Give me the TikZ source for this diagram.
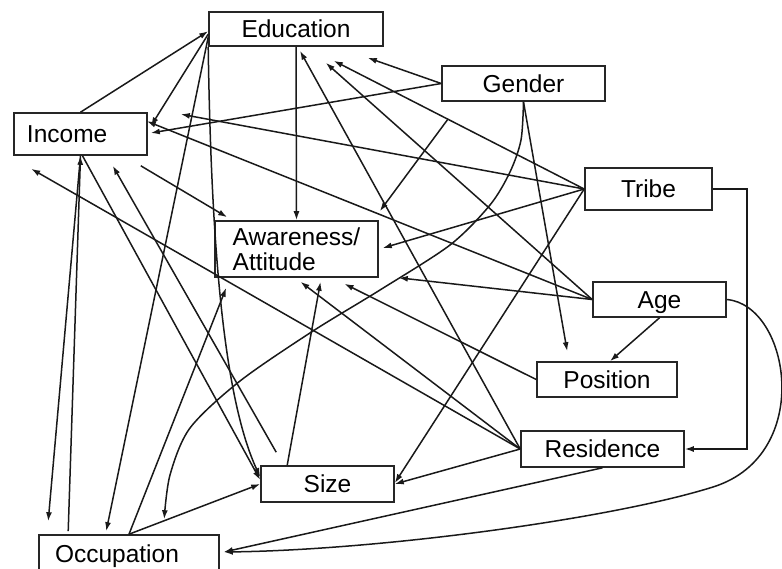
\documentclass[tikz,border=0pt]{standalone}
\usepackage{fontspec}
\setmainfont{Liberation Sans}
\usetikzlibrary{arrows.meta}

\tikzset{
  box/.style={draw=black!85, line width=1.6pt, rectangle, inner sep=0pt,
    font=\fontsize{24.5}{25.5}\selectfont},
  word/.style={box, text height=17.5pt, text depth=0pt},
  arr/.style={draw=black!90, line width=1.5pt, -{Latex[length=9pt,width=6pt]}},
}

\begin{document}
\begin{tikzpicture}[x=1pt,y=1pt]
    \useasboundingbox (0,0) rectangle (782,-568);
    \clip (0,0) rectangle (782,-568);

    \node[word, minimum width=174pt, minimum height=34pt] (educ) at (296,-29) {Education};
    \node[word, minimum height=42pt, inner xsep=13pt, text width=107pt, align=left] (income) at (80.5,-134) {Income};
    \node[box, minimum width=163pt, minimum height=56pt, align=left] (aware) at (296.5,-249) {Awareness/\\Attitude};
    \node[word, minimum width=163pt, minimum height=35pt] (gender) at (523.5,-83.5) {Gender};
    \node[word, minimum width=127pt, minimum height=42pt] (tribe) at (648.5,-189) {Tribe};
    \node[word, minimum width=133pt, minimum height=35pt] (age) at (659.5,-299.5) {Age};
    \node[word, minimum width=140pt, minimum height=35pt] (posn) at (607,-379.5) {Position};
    \node[word, minimum width=163pt, minimum height=36pt] (resid) at (602.5,-449) {Residence};
    \node[word, minimum width=133pt, minimum height=36pt] (size) at (327.5,-484) {Size};
    \node[word, minimum height=37pt, inner xsep=16pt, text width=148pt, align=left] (occup) at (129,-553.5) {Occupation};

    \coordinate (gfree) at ([xshift=7pt,yshift=-17pt]gender.south west);
    \coordinate (ifree) at ([xshift=-7pt,yshift=-10pt]income.south east);
    \coordinate (sfree) at ([xshift=16pt,yshift=13pt]size.north west);
    \coordinate (occin) at ([xshift=4pt,yshift=1.5pt]occup.east);

    \draw[arr] (income.north) -- ([yshift=-20pt]educ.north west);
    \draw[arr] ([yshift=-23pt]educ.north west) -- ([xshift=3pt,yshift=-14pt]income.north east);
    \draw[arr] ([yshift=-26pt]educ.north west) -- ([xshift=68pt,yshift=3pt]occup.north west);
    \draw[arr] (educ.south west) .. controls +(3,-204) and +(-36,78) .. ([yshift=7pt]size.west);
    \draw[arr] (educ.south) -- (aware.north);
    \draw[arr] (resid.west) -- ([xshift=4pt,yshift=-4pt]educ.south);
    \draw[arr] (gender.west) -- ([xshift=-16pt,yshift=-11pt]educ.south east);
    \draw[arr] (gender.west) -- ([xshift=3pt,yshift=1pt]income.east);
    \draw[arr] (tribe.west) -- ([xshift=-50pt,yshift=-14pt]educ.south east);
    \draw[arr] (age.west) -- ([xshift=-58pt,yshift=-16pt]educ.south east);
    \draw[arr] (age.west) -- ([xshift=-1pt,yshift=-9pt]income.north east);
    \draw[arr] (tribe.west) -- ([xshift=33pt,yshift=-2pt]income.north east);

    \draw[arr] (ifree) -- ([xshift=13pt,yshift=3pt]aware.north west);
    \draw[arr] (gfree) -- ([xshift=1pt,yshift=9pt]aware.north east);
    \draw[arr] (tribe.west) -- ([xshift=4pt,yshift=1pt]aware.east);
    \draw[arr] (age.west) -- ([xshift=20pt]aware.south east);
    \draw[arr] (resid.west) -- ([xshift=4pt,yshift=-4pt]aware.south);
    \draw[arr] ([xshift=27pt]size.north west) -- ([xshift=24pt,yshift=-4pt]aware.south);
    \draw[arr] (posn.west) -- ([xshift=48pt,yshift=-6pt]aware.south);
    \draw[arr] (occup.north) -- ([xshift=12pt,yshift=-10pt]aware.south west);

    \draw[arr] (occup.north) -- (size.west);
    \draw[arr] ([xshift=2pt]income.south) -- ([yshift=4pt]size.west);
    \draw[arr] (sfree) -- ([xshift=-35pt,yshift=-10pt]income.south east);
    \draw[arr] (income.south) -- ([xshift=10pt,yshift=13pt]occup.north west);
    \draw[arr] ([xshift=30pt,yshift=3pt]occup.north west) -- (income.south);
    \draw[arr] (resid.west) -- ([xshift=18pt,yshift=-13pt]income.south west);
    \draw[arr] (tribe.west) -- ([yshift=1pt]size.east);
    \draw[arr] (resid.west) -- (size.east);

    \draw[arr] (gender.south) -- ([xshift=31pt,yshift=10pt]posn.north west);
    \draw[arr] (age.south) -- ([xshift=3pt]posn.north);
    \draw[arr] plot[smooth] coordinates {(gender.south) (521,-140) (510,-172) (490,-205) (450,-245) (380,-290) (313,-331) (240,-381) (190,-428) (170,-475) ([xshift=126pt,yshift=15pt]occup.north west)};
    \draw[arr] (age.east) .. controls (790,-305) and (815,-455) .. (713,-487) .. controls (611,-519) and (380,-550) .. (occin);
    \draw[arr] (resid.south) -- (occin);
    \draw[arr] (tribe.east) -- ++(34,0) |- (resid.east);
\end{tikzpicture}
\end{document}
